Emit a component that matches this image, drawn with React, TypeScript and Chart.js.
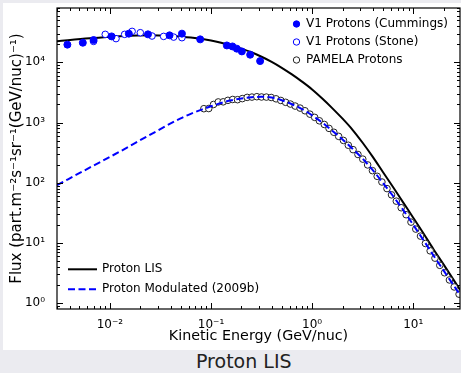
import React, { useEffect, useRef } from 'react';
import { Chart, registerables } from 'chart.js';
Chart.register(...registerables);

// ---- data ----
const cummingsEnergy = [0.0038, 0.0054, 0.0069, 0.0104, 0.0154, 0.0238, 0.0389, 0.0516, 0.0782, 0.1435, 0.163, 0.18, 0.202, 0.244, 0.306];
const cummingsFlux = [19700, 21200, 23500, 27000, 30000, 29200, 28100, 30000, 24100, 19100, 18400, 16900, 15200, 13400, 10500];

const stoneEnergy = [0.0069, 0.009, 0.0115, 0.014, 0.0166, 0.02, 0.0261, 0.034, 0.0427, 0.0516];
const stoneFlux = [22300, 29200, 24800, 29200, 32700, 31100, 27400, 27000, 26300, 25700];

const pamelaEnergy = [0.085, 0.095, 0.106, 0.118, 0.132, 0.147, 0.164, 0.183, 0.204, 0.228, 0.254, 0.284, 0.316, 0.353, 0.394, 0.44, 0.49, 0.547, 0.61, 0.68, 0.76, 0.85, 0.95, 1.06, 1.18, 1.32, 1.47, 1.64, 1.83, 2.04, 2.28, 2.54, 2.84, 3.17, 3.54, 3.95, 4.4, 4.9, 5.5, 6.1, 6.8, 7.6, 8.5, 9.5, 10.6, 11.8, 13.2, 14.7, 16.4, 18.3, 20.4, 22.8, 25.4, 28.4];
const pamelaFlux = [1700, 1710, 2000, 2200, 2210, 2340, 2420, 2400, 2500, 2620, 2650, 2690, 2660, 2650, 2610, 2480, 2330, 2170, 2030, 1880, 1740, 1570, 1380, 1220, 1070, 930, 800, 690, 590, 505, 420, 355, 295, 247, 198, 159, 128, 103, 80, 63, 49.5, 38.5, 29.5, 22.2, 17, 13, 9.8, 7.4, 5.6, 4.25, 3.2, 2.43, 1.86, 1.41];

const lisEnergy = [0.003, 0.0063, 0.0126, 0.0251, 0.0398, 0.0631, 0.1, 0.126, 0.158, 0.2, 0.251, 0.316, 0.398, 0.501, 0.631, 0.794, 1, 1.26, 1.58, 2.0, 2.51, 3.16, 3.98, 5.01, 6.31, 7.94, 10, 12.6, 15.8, 20, 29];
const lisFlux = [22400, 25100, 27200, 28200, 27500, 25900, 23100, 21200, 19100, 16900, 14700, 12400, 10200, 8130, 6310, 4790, 3550, 2510, 1740, 1160, 759, 462, 269, 151, 85.1, 47.3, 26.3, 14.5, 7.94, 4.37, 1.67];

const modEnergy = [0.003, 0.0063, 0.0126, 0.0251, 0.0501, 0.0631, 0.0794, 0.1, 0.126, 0.158, 0.2, 0.251, 0.316, 0.398, 0.501, 0.631, 0.794, 1, 1.26, 1.58, 2.0, 2.51, 3.16, 3.98, 5.01, 6.31, 7.94, 10, 12.6, 15.8, 20, 29];
const modFlux = [91.2, 178, 331, 631, 1175, 1396, 1622, 1862, 2113, 2344, 2512, 2630, 2679, 2600, 2344, 2018, 1679, 1318, 1000, 733, 525, 367, 251, 162, 100, 60.3, 35.5, 20.0, 11.2, 6.24, 3.47, 1.38];

const xMajorTicks = [0.01, 0.1, 1, 10];
const xTickLabels = ['10⁻²', '10⁻¹', '10⁰', '10¹'];
const yMajorTicks = [1, 10, 100, 1000, 10000];
const yTickLabels = ['10⁰', '10¹', '10²', '10³', '10⁴'];

const X_MIN = 0.003, X_MAX = 29;
const Y_MIN = 0.8, Y_MAX = 80000;

const FONT = 'DejaVu Sans';
const BLUE = '#0000ff';

const zip = (xs: number[], ys: number[]) => xs.map((x, i) => ({ x, y: ys[i] }));

function isMajor(v: number) {
  const l = Math.log10(v);
  return Math.abs(l - Math.round(l)) < 1e-6;
}

function logTicks(min: number, max: number) {
  const out: number[] = [];
  for (let d = Math.floor(Math.log10(min)); d <= Math.ceil(Math.log10(max)); d++) {
    for (let k = 1; k <= 9; k++) {
      const v = k * Math.pow(10, d);
      if (v >= min * 0.9999 && v <= max * 1.0001) out.push(v);
    }
  }
  return out;
}

function labelFor(v: number, majors: number[], labels: string[]) {
  const i = majors.findIndex((m) => Math.abs(m - v) / m < 1e-6);
  return i >= 0 ? labels[i] : '';
}

const mplPlugin = {
  id: 'mplAxes',
  afterDatasetsDraw(chart: any) {
    const { ctx, chartArea: a, scales } = chart;
    const xs = scales.x, ys = scales.y;
    ctx.save();
    ctx.strokeStyle = '#000';
    ctx.lineWidth = 1;
    ctx.beginPath();
    for (const t of xs.ticks) {
      const px = Math.round(xs.getPixelForValue(t.value)) + 0.5;
      if (px < a.left || px > a.right) continue;
      const len = isMajor(t.value) ? 6 : 3;
      ctx.moveTo(px, a.bottom); ctx.lineTo(px, a.bottom - len);
      ctx.moveTo(px, a.top); ctx.lineTo(px, a.top + len);
    }
    for (const t of ys.ticks) {
      const py = Math.round(ys.getPixelForValue(t.value)) + 0.5;
      if (py < a.top || py > a.bottom) continue;
      const len = isMajor(t.value) ? 6 : 3;
      ctx.moveTo(a.left, py); ctx.lineTo(a.left + len, py);
      ctx.moveTo(a.right, py); ctx.lineTo(a.right - len, py);
    }
    ctx.stroke();
    ctx.lineWidth = 1.2;
    ctx.strokeRect(a.left, a.top, a.right - a.left, a.bottom - a.top);
    ctx.restore();
  },
  afterDraw(chart: any) {
    const { ctx, chartArea: a } = chart;
    ctx.save();
    ctx.font = `12px "${FONT}"`;
    ctx.textBaseline = 'middle';
    ctx.textAlign = 'left';
    ctx.fillStyle = '#000';
    // marker legend (top right)
    const mx = a.right - 163.5;
    const tx = a.right - 154;
    const rows = [a.top + 16, a.top + 34, a.top + 52];
    const entries = [
      { t: 'V1 Protons (Cummings)', fill: BLUE, stroke: BLUE },
      { t: 'V1 Protons (Stone)', fill: '#fff', stroke: BLUE },
      { t: 'PAMELA Protons', fill: '#fff', stroke: '#222' },
    ];
    entries.forEach((e, i) => {
      ctx.beginPath();
      ctx.arc(mx, rows[i], 3.2, 0, Math.PI * 2);
      ctx.fillStyle = e.fill;
      ctx.fill();
      ctx.lineWidth = 1;
      ctx.strokeStyle = e.stroke;
      ctx.stroke();
      ctx.fillStyle = '#000';
      ctx.fillText(e.t, tx, rows[i]);
    });
    // line legend (bottom left)
    const lx0 = a.left + 11, lx1 = a.left + 40, ltx = a.left + 45;
    const r1 = a.bottom - 39.7, r2 = a.bottom - 19.7;
    ctx.lineWidth = 2;
    ctx.strokeStyle = '#000';
    ctx.setLineDash([]);
    ctx.beginPath(); ctx.moveTo(lx0, r1); ctx.lineTo(lx1, r1); ctx.stroke();
    ctx.strokeStyle = BLUE;
    ctx.setLineDash([7, 3.5]);
    ctx.beginPath(); ctx.moveTo(lx0, r2); ctx.lineTo(lx1, r2); ctx.stroke();
    ctx.setLineDash([]);
    ctx.fillStyle = '#000';
    ctx.fillText('Proton LIS', ltx, r1);
    ctx.fillText('Proton Modulated (2009b)', ltx, r2);
    ctx.restore();
  },
};

export default function App() {
  const ref = useRef<HTMLCanvasElement>(null);
  useEffect(() => {
    const canvas = ref.current!;
    const chart = new Chart(canvas, {
      type: 'scatter',
      data: {
        datasets: [
          {
            label: 'Proton Modulated (2009b)',
            data: zip(modEnergy, modFlux),
            showLine: true,
            borderColor: BLUE,
            borderWidth: 2,
            borderDash: [7, 3.5],
            pointRadius: 0,
            cubicInterpolationMode: 'monotone',
            order: 1,
          },
          {
            label: 'V1 Protons (Cummings)',
            data: zip(cummingsEnergy, cummingsFlux),
            backgroundColor: BLUE,
            borderColor: BLUE,
            borderWidth: 1,
            pointRadius: 3.5,
            order: 2,
          },
          {
            label: 'V1 Protons (Stone)',
            data: zip(stoneEnergy, stoneFlux),
            backgroundColor: '#fff',
            borderColor: BLUE,
            borderWidth: 1,
            pointRadius: 3.3,
            order: 3,
          },
          {
            label: 'PAMELA Protons',
            data: zip(pamelaEnergy, pamelaFlux),
            backgroundColor: '#fff',
            borderColor: '#222',
            borderWidth: 1,
            pointRadius: 3.3,
            order: 4,
          },
          {
            label: 'Proton LIS',
            data: zip(lisEnergy, lisFlux),
            showLine: true,
            borderColor: '#000',
            borderWidth: 2,
            pointRadius: 0,
            cubicInterpolationMode: 'monotone',
            order: 5,
          },
        ],
      } as any,
      options: {
        responsive: false,
        devicePixelRatio: 1,
        animation: false,
        layout: { autoPadding: false, padding: { top: 5, right: 1, left: 0, bottom: 0 } },
        plugins: { legend: { display: false }, tooltip: { enabled: false } },
        scales: {
          x: {
            type: 'logarithmic',
            min: X_MIN,
            max: X_MAX,
            grid: { display: false },
            border: { display: false },
            afterBuildTicks: (axis: any) => {
              axis.ticks = logTicks(X_MIN, X_MAX).map((v) => ({ value: v }));
            },
            afterFit: (axis: any) => {
              axis.height = 41;
              axis.paddingLeft = 0;
              axis.paddingRight = 0;
            },
            ticks: {
              autoSkip: false,
              maxRotation: 0,
              minRotation: 0,
              padding: 1,
              color: '#000',
              font: { family: FONT, size: 12 },
              callback: (v: any) => labelFor(Number(v), xMajorTicks, xTickLabels),
            },
            title: {
              display: true,
              text: 'Kinetic Energy (GeV/nuc)',
              color: '#000',
              font: { family: FONT, size: 14.3 },
              padding: { top: 0, bottom: 5 },
            },
          },
          y: {
            type: 'logarithmic',
            min: Y_MIN,
            max: Y_MAX,
            grid: { display: false },
            border: { display: false },
            afterBuildTicks: (axis: any) => {
              axis.ticks = logTicks(Y_MIN, Y_MAX).map((v) => ({ value: v }));
            },
            afterFit: (axis: any) => {
              axis.width = 54;
              axis.paddingTop = 0;
              axis.paddingBottom = 0;
            },
            ticks: {
              autoSkip: false,
              padding: 4,
              color: '#000',
              font: { family: FONT, size: 12 },
              callback: (v: any) => labelFor(Number(v), yMajorTicks, yTickLabels),
            },
            title: {
              display: true,
              text: 'Flux (part.m⁻²s⁻¹sr⁻¹(GeV/nuc)⁻¹)',
              color: '#000',
              font: { family: FONT, size: 15 },
              padding: { top: 5, bottom: 0 },
            },
          },
        },
      } as any,
      plugins: [mplPlugin],
    });
    return () => chart.destroy();
  }, []);

  return (
    <div style={{ position: 'absolute', left: 0, top: 0, width: 461, height: 373, background: '#ebebf0', overflow: 'hidden' }}>
      <div style={{ position: 'absolute', left: 3, top: 3, width: 458, height: 347, background: '#fff' }}>
        <canvas ref={ref} width={458} height={347} style={{ display: 'block', width: 458, height: 347 }} />
      </div>
      <div
        style={{
          position: 'absolute',
          left: 196,
          top: 350,
          height: 23,
          lineHeight: '23px',
          fontFamily: FONT,
          fontSize: 19,
          color: '#222',
          whiteSpace: 'nowrap',
        }}
      >
        Proton LIS
      </div>
    </div>
  );
}
